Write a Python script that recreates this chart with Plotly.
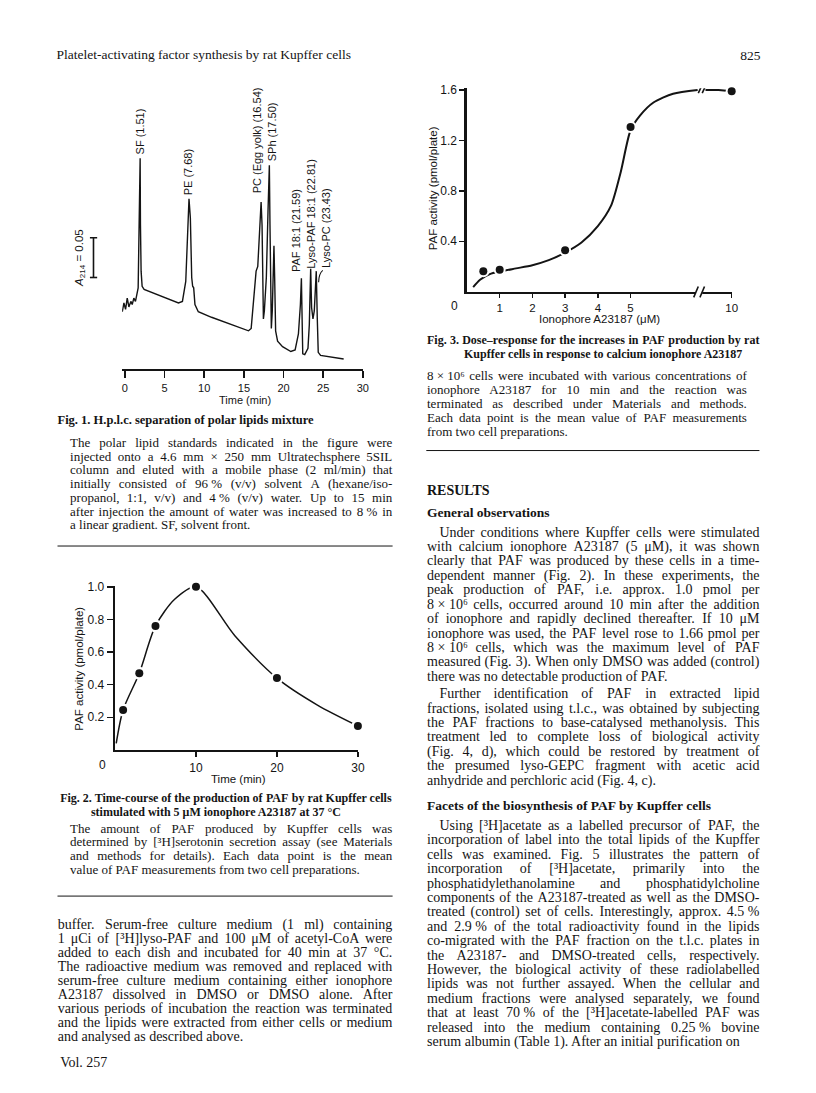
import re
import plotly.graph_objects as go

W, H = 816, 1093
INK = '#141414'
SANS = 'Liberation Sans, Arial, sans-serif'
SERIF = 'Liberation Serif, Times New Roman, serif'

# ---------------- Fig. 1: h.p.l.c. trace ----------------
hplc_time = [-0.33, -0.125, 0.083, 0.29, 0.5, 0.75, 0.92, 1.125, 1.33, 1.5, 1.67, 1.79, 1.83, 1.92,
             1.96, 2.04, 2.17, 2.42, 6.75, 7.25, 7.67, 7.92, 8.08, 8.25, 8.42, 8.54, 8.67, 8.83, 9.25,
             10.92, 15.58, 15.92, 16.21, 16.54, 16.75, 17.0, 17.17, 17.29, 17.375, 17.46, 17.58, 17.83,
             18.04, 18.21, 18.29, 18.375, 18.46, 18.58, 18.71, 18.79, 18.88, 19.0, 19.25, 19.875, 20.92,
             21.46, 21.875, 22.125, 22.25, 22.33, 22.42, 22.67, 23.08, 23.25, 23.42, 23.54, 23.71, 23.875,
             24.0, 24.125, 24.25, 24.375, 24.67, 25.92, 27.58]
hplc_abs = [0.072, 0.083, 0.075, 0.089, 0.078, 0.085, 0.081, 0.089, 0.085, 0.092, 0.102, 0.181, 0.265, 0.265,
            0.181, 0.123, 0.104, 0.100, 0.083, 0.085, 0.110, 0.173, 0.214, 0.190, 0.115, 0.104, 0.102, 0.081, 0.072,
            0.065, 0.048, 0.051, 0.081, 0.123, 0.129, 0.181, 0.210, 0.181, 0.073, 0.063, 0.073, 0.115,
            0.198, 0.256, 0.181, 0.056, 0.051, 0.073, 0.140, 0.155, 0.115, 0.048, 0.035, 0.028, 0.022,
            0.024, 0.044, 0.081, 0.114, 0.056, 0.019, 0.018, 0.026, 0.056, 0.126, 0.077, 0.063, 0.073,
            0.106, 0.123, 0.065, 0.021, 0.017, 0.015, 0.0125]
peak_labels = ["SF (1.51)", "PE (7.68)", "PC (Egg yolk) (16.54)", "SPh (17.50)",
               "PAF 18:1 (21.59)", "Lyso-PAF 18:1 (22.81)", "Lyso-PC (23.43)"]
peak_label_time = [1.96, 7.91, 16.66, 18.5, 21.54, 23.41, 25.29]
peak_label_abs = [0.269, 0.2166, 0.2196, 0.260, 0.121, 0.125, 0.125]
hplc_ticks = [0, 5, 10, 15, 20, 25, 30]
scale_bar_value = 0.05

# ---------------- Fig. 2: time-course ----------------
tc_time = [1, 3, 5, 10, 20, 30]
tc_paf = [0.245, 0.47, 0.76, 1.0, 0.44, 0.147]
tc_curve_time = [0.15, 1, 3, 5, 7.4, 10, 14.8, 20, 25, 30]
tc_curve_paf = [0.04, 0.245, 0.47, 0.76, 0.925, 1.0, 0.70, 0.44, 0.275, 0.147]
tc_xticks = [10, 20, 30]
tc_yticks = [0.2, 0.4, 0.6, 0.8, 1.0]

# ---------------- Fig. 3: dose-response ----------------
dr_conc = [0.5, 1, 3, 5, 10]
dr_paf = [0.163, 0.175, 0.328, 1.306, 1.59]
dr_curve_conc_a = [0.19, 0.4, 0.7, 1.0, 1.5, 2.0, 2.5, 3.0, 3.5, 4.0, 4.4, 4.7, 5.0, 5.3, 5.7, 6.3, 7.05]
dr_curve_paf_a = [0.037, 0.095, 0.14, 0.16, 0.185, 0.21, 0.25, 0.31, 0.39, 0.52, 0.68, 0.95, 1.28, 1.40,
                  1.50, 1.57, 1.60]
dr_curve_conc_b = [9.2, 9.6, 10]
dr_curve_paf_b = [1.60, 1.60, 1.59]
dr_xticks = [1, 2, 3, 4, 5, 10]
dr_yticks = [0.4, 0.8, 1.2, 1.6]
BREAK_SHIFT = 1.91   # axis jumps from ~7 to ~9


def brk(v):
    return v - BREAK_SHIFT if v > 7.15 else v


# ---------------- page text ----------------
fig1_title = "Fig. 1. H.p.l.c. separation of polar lipids mixture"
fig1_caption = [
    "The polar lipid standards indicated in the figure were",
    "injected onto a 4.6 mm × 250 mm Ultratechsphere 5SIL",
    "column and eluted with a mobile phase (2 ml/min) that",
    "initially consisted of 96\u00a0% (v/v) solvent A (hexane/iso-",
    "propanol, 1:1, v/v) and 4\u00a0% (v/v) water. Up to 15 min",
    "after injection the amount of water was increased to 8\u00a0% in",
    "a linear gradient. SF, solvent front.",
]
fig2_title = ["Fig. 2. Time-course of the production of PAF by rat Kupffer cells",
              "stimulated with 5 μM ionophore A23187 at 37 °C"]
fig2_caption = [
    "The amount of PAF produced by Kupffer cells was",
    "determined by [³H]serotonin secretion assay (see Materials",
    "and methods for details). Each data point is the mean",
    "value of PAF measurements from two cell preparations.",
]
left_body = [
    "buffer. Serum-free culture medium (1 ml) containing",
    "1 μCi of [³H]lyso-PAF and 100 μM of acetyl-CoA were",
    "added to each dish and incubated for 40 min at 37 °C.",
    "The radioactive medium was removed and replaced with",
    "serum-free culture medium containing either ionophore",
    "A23187 dissolved in DMSO or DMSO alone. After",
    "various periods of incubation the reaction was terminated",
    "and the lipids were extracted from either cells or medium",
    "and analysed as described above.",
]
fig3_title = ["Fig. 3. Dose–response for the increases in PAF production by rat",
              "Kupffer cells in response to calcium ionophore A23187"]
fig3_caption = [
    "8\u00a0×\u00a010⁶ cells were incubated with various concentrations of",
    "ionophore A23187 for 10 min and the reaction was",
    "terminated as described under Materials and methods.",
    "Each data point is the mean value of PAF measurements",
    "from two cell preparations.",
]
para1 = [
    "Under conditions where Kupffer cells were stimulated",
    "with calcium ionophore A23187 (5 μM), it was shown",
    "clearly that PAF was produced by these cells in a time-",
    "dependent manner (Fig. 2). In these experiments, the",
    "peak production of PAF, i.e. approx. 1.0 pmol per",
    "8\u00a0×\u00a010⁶ cells, occurred around 10 min after the addition",
    "of ionophore and rapidly declined thereafter. If 10 μM",
    "ionophore was used, the PAF level rose to 1.66 pmol per",
    "8\u00a0×\u00a010⁶ cells, which was the maximum level of PAF",
    "measured (Fig. 3). When only DMSO was added (control)",
    "there was no detectable production of PAF.",
]
para2 = [
    "Further identification of PAF in extracted lipid",
    "fractions, isolated using t.l.c., was obtained by subjecting",
    "the PAF fractions to base-catalysed methanolysis. This",
    "treatment led to complete loss of biological activity",
    "(Fig. 4, d), which could be restored by treatment of",
    "the presumed lyso-GEPC fragment with acetic acid",
    "anhydride and perchloric acid (Fig. 4, c).",
]
para3 = [
    "Using [³H]acetate as a labelled precursor of PAF, the",
    "incorporation of label into the total lipids of the Kupffer",
    "cells was examined. Fig. 5 illustrates the pattern of",
    "incorporation of [³H]acetate, primarily into the",
    "phosphatidylethanolamine and phosphatidylcholine",
    "components of the A23187-treated as well as the DMSO-",
    "treated (control) set of cells. Interestingly, approx. 4.5\u00a0%",
    "and 2.9\u00a0% of the total radioactivity found in the lipids",
    "co-migrated with the PAF fraction on the t.l.c. plates in",
    "the A23187- and DMSO-treated cells, respectively.",
    "However, the biological activity of these radiolabelled",
    "lipids was not further assayed. When the cellular and",
    "medium fractions were analysed separately, we found",
    "that at least 70\u00a0% of the [³H]acetate-labelled PAF was",
    "released into the medium containing 0.25\u00a0% bovine",
    "serum albumin (Table 1). After an initial purification on",
]

# ---------------- Times metrics for justification ----------------
UP = "ABCDEFGHIJKLMNOPQRSTUVWXYZ"
LO = "abcdefghijklmnopqrstuvwxyz"
WR = dict(zip(UP, [722, 667, 667, 722, 611, 556, 722, 722, 333, 389, 722, 611, 889, 722, 722, 556, 722, 667,
                   556, 611, 722, 722, 944, 722, 722, 611]))
WR.update(zip(LO, [444, 500, 444, 500, 444, 333, 500, 500, 278, 278, 500, 278, 778, 500, 500, 500, 500, 333,
                   389, 278, 500, 500, 722, 500, 500, 444]))
WB = dict(zip(UP, [722, 667, 722, 722, 667, 611, 778, 778, 389, 500, 778, 667, 944, 722, 778, 611, 778, 722,
                   556, 667, 722, 722, 1000, 722, 722, 667]))
WB.update(zip(LO, [500, 556, 444, 556, 444, 333, 500, 556, 278, 333, 556, 278, 833, 556, 500, 556, 556, 444,
                   389, 333, 556, 500, 722, 500, 500, 444]))
PUN = {' ': 250, '\u00a0': 250, ',': 250, '.': 250, '-': 333, '(': 333, ')': 333, ':': 278, ';': 278,
       '/': 278, '%': 833, '[': 333, ']': 333, '×': 564, '°': 400, 'μ': 500, '³': 300, '⁶': 300,
       '–': 500, "'": 333}
for d in (WR, WB):
    d.update(PUN)
    d.update({c: 500 for c in "0123456789"})
WB[':'] = 333


def text_em(s, bold=False):
    table = WB if bold else WR
    chunk = re.sub(r'<[^>]+>', '', s)
    return sum(table.get(ch, 500) for ch in chunk) / 1000.0


TX, TY, TT, TP, TS = [], [], [], [], []


def put(x, y, s, pos, size, bold):
    TX.append(x)
    TY.append(y)
    TT.append('<b>%s</b>' % s if bold else s)
    TP.append(pos)
    TS.append(size)


def line(s, left, right, y, size, bold=False, justify=True):
    words = s.split(' ')
    if not justify or len(words) == 1:
        put(left, y, s, 'middle right', size, bold)
        return
    ws = [text_em(w, bold) * size for w in words]
    gap = (right - left - sum(ws)) / (len(words) - 1)
    x = left
    for i, (w, wd) in enumerate(zip(words, ws)):
        if i == 0:
            put(left, y, w, 'middle right', size, bold)
        elif i == len(words) - 1:
            put(right, y, w, 'middle left', size, bold)
        else:
            put(x + wd / 2, y, w, 'middle center', size, bold)
        x += wd + gap


def block(lines, left, right, y0, dy, size, indent=0.0, bold=False):
    for i, s in enumerate(lines):
        l = left + (indent if i == 0 else 0)
        line(s, l, right, y0 + i * dy, size, bold, justify=(i < len(lines) - 1))


BODY = 14.0
CAP = 13.0
CAPT = 12.0
put(57, 50, "Platelet-activating factor synthesis by rat Kupffer cells", 'middle right', 13.5, False)
put(767, 51, "825", 'middle left', 13.5, False)
put(58, 417, fig1_title, 'middle right', 12.5, True)
block(fig1_caption, 70.7, 395.7, 440, 13.85, CAP)
line(fig2_title[0], 60.7, 395.0, 797, CAPT, True, True)
put(91.7, 811, fig2_title[1], 'middle right', CAPT, True)
block(fig2_caption, 70.7, 395.7, 828, 13.7, CAP)
block(left_body, 58.3, 395.7, 925, 14.0, BODY)
put(60.7, 1063, "Vol. 257", 'middle right', BODY, False)

line(fig3_title[0], 430.7, 766, 337, CAPT, True, True)
put(468, 351, fig3_title[1], 'middle right', CAPT, True)
block(fig3_caption, 430.7, 753.3, 373, 14.0, CAP)
put(430.7, 488, "RESULTS", 'middle right', BODY, True)
put(430.7, 510, "General observations", 'middle right', 13.5, True)
block(para1, 430.7, 766, 530, 14.5, BODY, indent=12.6)
block(para2, 430.7, 766, 692.7, 14.43, BODY, indent=12.6)
put(430.7, 805, "Facets of the biosynthesis of PAF by Kupffer cells", 'middle right', 13.5, True)
block(para3, 430.7, 766, 825, 14.49, BODY, indent=12.6)


# ---------------- helpers for placing panels on the page ----------------
def xdom(a, b):
    return [a / W, b / W]


def ydom(top, bottom):
    return [1 - bottom / H, 1 - top / H]


def px(x):
    return x / W


def py(y):
    return 1 - y / H


fig = go.Figure()

# Fig. 1 trace
fig.add_trace(go.Scatter(x=hplc_time, y=hplc_abs, mode='lines', line=dict(color=INK, width=1.4),
                         xaxis='x', yaxis='y', hoverinfo='skip'))

# Fig. 2
fig.add_trace(go.Scatter(x=tc_curve_time, y=tc_curve_paf, mode='lines',
                         line=dict(color=INK, width=1.5, shape='spline', smoothing=0.8),
                         xaxis='x2', yaxis='y2', hoverinfo='skip'))
fig.add_trace(go.Scatter(x=tc_time, y=tc_paf, mode='markers', marker=dict(color='white', size=13),
                         xaxis='x2', yaxis='y2', cliponaxis=False, hoverinfo='skip'))
fig.add_trace(go.Scatter(x=tc_time, y=tc_paf, mode='markers', marker=dict(color=INK, size=8),
                         xaxis='x2', yaxis='y2', cliponaxis=False, hoverinfo='skip'))

# Fig. 3
fig.add_trace(go.Scatter(x=[brk(v) for v in dr_curve_conc_a], y=dr_curve_paf_a, mode='lines',
                         line=dict(color=INK, width=2, shape='spline', smoothing=0.7),
                         xaxis='x3', yaxis='y3', hoverinfo='skip', cliponaxis=False))
fig.add_trace(go.Scatter(x=[brk(v) for v in dr_curve_conc_b], y=dr_curve_paf_b, mode='lines',
                         line=dict(color=INK, width=2),
                         xaxis='x3', yaxis='y3', hoverinfo='skip', cliponaxis=False))
fig.add_trace(go.Scatter(x=[brk(v) for v in dr_conc], y=dr_paf, mode='markers', marker=dict(color='white', size=12),
                         xaxis='x3', yaxis='y3', cliponaxis=False, hoverinfo='skip'))
fig.add_trace(go.Scatter(x=[brk(v) for v in dr_conc], y=dr_paf, mode='markers', marker=dict(color=INK, size=8),
                         xaxis='x3', yaxis='y3', cliponaxis=False, hoverinfo='skip'))

# page text
fig.add_trace(go.Scatter(x=TX, y=TY, text=TT, textposition=TP, mode='text',
                         textfont=dict(family=SERIF, size=TS, color=INK),
                         xaxis='x4', yaxis='y4', hoverinfo='skip', cliponaxis=False))

common = dict(showgrid=False, zeroline=False, linecolor=INK, tickcolor=INK, fixedrange=True,
              showline=True, ticks='outside')

fig.update_layout(
    width=W, height=H, margin=dict(l=0, r=0, t=0, b=0),
    paper_bgcolor='white', plot_bgcolor='rgba(0,0,0,0)', showlegend=False,
    xaxis=dict(domain=xdom(123.2, 366), range=[-0.35, 30], anchor='y', linewidth=2.4, ticklen=7, tickwidth=1.5,
               tickvals=hplc_ticks, tickfont=dict(family=SANS, size=11, color=INK), **common),
    yaxis=dict(domain=ydom(140, 365), range=[0, 0.28125], anchor='x', visible=False, fixedrange=True),
    xaxis2=dict(domain=xdom(116, 361), range=[0, 30], anchor='y2', linewidth=2.4, ticklen=5, tickwidth=1.5,
                tickvals=tc_xticks, tickfont=dict(family=SANS, size=12, color=INK), **common),
    yaxis2=dict(domain=ydom(583, 748), range=[0, 1.006], anchor='x2', linewidth=2.4, ticklen=6, tickwidth=1.5,
                tickvals=tc_yticks, tickformat='.1f', tickfont=dict(family=SANS, size=12, color=INK), **common),
    xaxis3=dict(domain=xdom(471, 738), range=[0, brk(10)], anchor='y3', linewidth=2.6, ticklen=4, tickwidth=1.5,
                tickvals=[brk(v) for v in dr_xticks], ticktext=[str(v) for v in dr_xticks],
                tickfont=dict(family=SANS, size=11.5, color=INK), **common),
    yaxis3=dict(domain=ydom(82.7, 287.3), range=[0, 1.613], anchor='x3', linewidth=2.6, ticklen=5, tickwidth=1.5,
                tickvals=dr_yticks, tickformat='.1f', tickfont=dict(family=SANS, size=12, color=INK), **common),
    xaxis4=dict(domain=[0, 1], range=[0, W], anchor='y4', visible=False, fixedrange=True),
    yaxis4=dict(domain=[0, 1], range=[H, 0], anchor='x4', visible=False, fixedrange=True),
)

ann = []
for name, t, a in zip(peak_labels, peak_label_time, peak_label_abs):
    ann.append(dict(x=t, y=a, xref='x', yref='y', text=name, textangle=-90, showarrow=False,
                    xanchor='center', yanchor='bottom', borderpad=0,
                    font=dict(family=SANS, size=11, color=INK)))


def page_text(x, y, s, size, angle=0, xanchor='center'):
    ann.append(dict(x=px(x), y=py(y), xref='paper', yref='paper', text=s, textangle=angle, showarrow=False,
                    xanchor=xanchor, yanchor='middle', borderpad=0, font=dict(family=SANS, size=size, color=INK)))


page_text(80, 253, "<i>A</i><sub>214</sub> = 0.05", 11.5, -90)
page_text(247, 396, "Time (min)", 11)
page_text(241, 777, "Time (min)", 11.5)
page_text(80, 666, "PAF activity (pmol/plate)", 11.5, -90)
page_text(103, 763, "0", 12)
page_text(437, 183, "PAF activity (pmol/plate)", 11.5, -90)
page_text(605, 315, "Ionophore A23187 (μM)", 11.5)
page_text(458, 302, "0", 12)
fig.update_layout(annotations=ann)

shapes = []
# scale bar (absorbance units on the Fig. 1 y axis)
sb0 = 0.115
shapes.append(dict(type='line', xref='paper', yref='y', x0=px(94.3), x1=px(94.3), y0=sb0, y1=sb0 + scale_bar_value,
                   line=dict(color=INK, width=1.6)))
for yv in (sb0, sb0 + scale_bar_value):
    shapes.append(dict(type='line', xref='paper', yref='y', x0=px(90.7), x1=px(98.0), y0=yv, y1=yv,
                       line=dict(color=INK, width=1.6)))
# Lyso-PC leader
shapes.append(dict(type='path', xref='x', yref='y', path='M 24.95 0.124 Q 24.45 0.12 24.42 0.109',
                   line=dict(color=INK, width=1.1)))
# Fig. 3 axis break
shapes.append(dict(type='line', xref='x3', yref='paper', x0=7.0, x1=7.19, y0=py(287.8), y1=py(287.8),
                   line=dict(color='white', width=5), layer='above'))
for xc in (7.0, 7.19):
    shapes.append(dict(type='line', xref='x3', yref='paper', x0=xc - 0.07, x1=xc + 0.07, y0=py(293), y1=py(282),
                       line=dict(color=INK, width=1.6), layer='above'))
# Fig. 3 curve break
for xc in (7.12, 7.24):
    shapes.append(dict(type='line', xref='x3', yref='y3', x0=xc - 0.05, x1=xc + 0.05, y0=1.575, y1=1.63,
                       line=dict(color=INK, width=1.6), layer='above'))
# separators
for (a, b, y) in ((58, 396, 543), (58, 396, 895), (430, 766, 447)):
    shapes.append(dict(type='line', xref='paper', yref='paper', x0=px(a), x1=px(b), y0=py(y), y1=py(y),
                       line=dict(color=INK, width=1)))
fig.update_layout(shapes=shapes)

fig.write_html("out.html", config={'displayModeBar': False, 'staticPlot': True},
               post_script="document.body.style.margin='0px';document.body.style.overflow='hidden';")
